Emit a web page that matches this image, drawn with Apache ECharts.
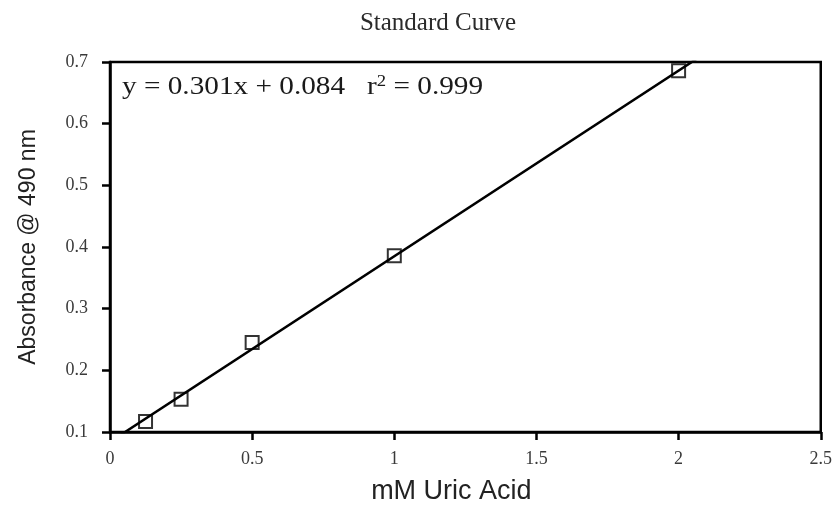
<!DOCTYPE html>
<html><head><meta charset="utf-8">
<script src="https://cdn.jsdelivr.net/npm/echarts@6/dist/echarts.min.js"></script>
<style>html,body{margin:0;padding:0;background:#fff}#c{width:835px;height:510px}</style>
</head><body><div id="c"></div>
<script>
var concentrations = [0.125, 0.25, 0.5, 1, 2];
var absorbances = [0.117, 0.153, 0.245, 0.386, 0.686];
var fitSlope = 0.301;
var fitIntercept = 0.084;
var fitR2 = 0.999;
var fitRangeX = [0, 2.5];
var titleText = 'Standard Curve';
var xName = 'mM Uric Acid';
var yName = 'Absorbance @ 490 nm';

var chart = echarts.init(document.getElementById('c'), null, {renderer: 'canvas'});
var serif = '"Liberation Serif", "Times New Roman", serif';
var sans = '"Liberation Sans", Arial, sans-serif';
var fitLine = fitRangeX.map(function (x) { return [x, fitSlope * x + fitIntercept]; });
var points = concentrations.map(function (x, i) { return [x, absorbances[i]]; });

chart.setOption({
  animation: false,
  backgroundColor: '#fff',
  title: {
    text: titleText, left: 433, top: 6, textAlign: 'center',
    textStyle: {fontFamily: serif, fontSize: 25, fontWeight: 'normal', color: '#2a2a2a'}
  },
  grid: {left: 110, right: 13, top: 62, bottom: 72, show: true, borderColor: '#000', borderWidth: 2.5, backgroundColor: 'transparent'},
  xAxis: {
    type: 'value', min: 0, max: 2.5, interval: 0.5,
    name: xName, nameLocation: 'middle', nameGap: 46,
    nameTextStyle: {fontFamily: sans, fontSize: 27, color: '#222', padding: [0, 28, 0, 0]},
    axisLine: {show: true, onZero: false, lineStyle: {color: '#000', width: 2.5}},
    axisTick: {show: true, inside: false, length: 8, lineStyle: {color: '#000', width: 2.5}},
    axisLabel: {fontFamily: serif, fontSize: 18, color: '#3a3a3a', margin: 18},
    splitLine: {show: false}
  },
  yAxis: {
    type: 'value', min: 0.1, max: 0.7, interval: 0.1,
    name: yName, nameLocation: 'middle', nameGap: 70, nameRotate: 90,
    nameTextStyle: {fontFamily: sans, fontSize: 23, color: '#222'},
    axisLine: {show: true, onZero: false, lineStyle: {color: '#000', width: 2.5}},
    axisTick: {show: true, inside: false, length: 8, lineStyle: {color: '#000', width: 2.5}},
    axisLabel: {fontFamily: serif, fontSize: 18, color: '#3a3a3a', margin: 22,
      formatter: function (v) { return v.toFixed(1); }},
    splitLine: {show: false}
  },
  series: [
    {type: 'line', data: fitLine, symbol: 'none', clip: true, z: 2,
      lineStyle: {color: '#000', width: 2.5}},
    {type: 'scatter', data: points, symbol: 'rect', symbolSize: 13, z: 3,
      itemStyle: {color: 'rgba(0,0,0,0)', borderColor: '#000', borderWidth: 2}}
  ],
  graphic: [{
    type: 'text', left: 122, top: 74, z: 10, scaleX: 1.17,
    style: {
      text: 'y = ' + fitSlope.toFixed(3) + 'x + ' + fitIntercept.toFixed(3) + '   r{sup|2} = ' + fitR2.toFixed(3),
      font: '25px ' + serif, fill: '#1a1a1a',
      rich: {sup: {fontFamily: serif, fontSize: 16, verticalAlign: 'top', padding: [0, 0, 10, 0], fill: '#1a1a1a'}}
    }
  }]
});
</script></body></html>
